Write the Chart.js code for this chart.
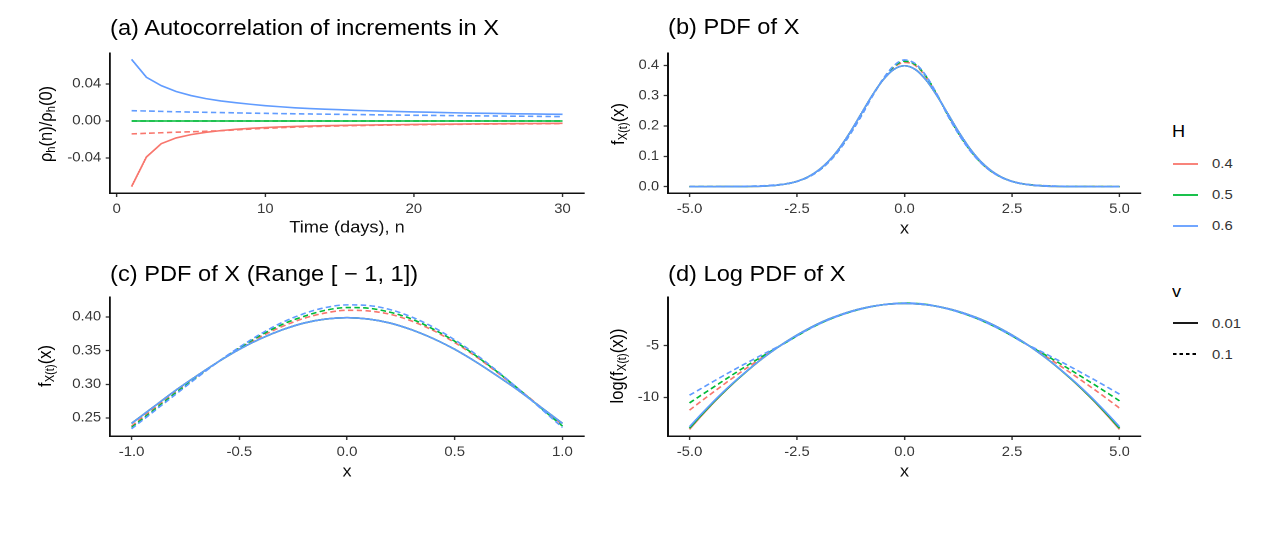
<!DOCTYPE html>
<html>
<head>
<meta charset="utf-8">
<script src="https://cdn.jsdelivr.net/npm/chart.js@4.4.1/dist/chart.umd.min.js"></script>
<style>
  body { margin: 0; background: #fff; }
  #fig { position: relative; width: 1280px; height: 543px; overflow: hidden;
         font-family: "Liberation Sans", Arial, Helvetica, sans-serif; color: #000; background: #fff; }
  #fig canvas { position: absolute; }
  .ptitle { position: absolute; font-size: 21.5px; line-height: 1; white-space: nowrap;
            transform: scaleX(1.1); transform-origin: 0 0; }
  .ylab { position: absolute; font-size: 16.5px; line-height: 1; white-space: nowrap;
          transform: translate(-50%, -50%) scaleX(1.1) rotate(-90deg); }
  .ylab sub { font-size: 68%; vertical-align: -0.25em; line-height: 0; }
  .lgt { position: absolute; font-size: 16.5px; line-height: 1; transform: scaleX(1.1); transform-origin: 0 0; }
  .lgl { position: absolute; font-size: 13.5px; line-height: 1; color: #333; transform: scaleX(1.1); transform-origin: 0 0; }
  .lgk { position: absolute; }
</style>
</head>
<body>
<div id="fig">
  <canvas id="pa"></canvas>
  <canvas id="pb"></canvas>
  <canvas id="pc"></canvas>
  <canvas id="pd"></canvas>
  <div class="ptitle" style="left:110px; top:17.5px">(a) Autocorrelation of increments in X</div>
  <div class="ptitle" style="left:668px; top:17px">(b) PDF of X</div>
  <div class="ptitle" style="left:110px; top:263.5px">(c) PDF of X (Range [ &minus; 1, 1])</div>
  <div class="ptitle" style="left:668px; top:263.5px">(d) Log PDF of X</div>
  <div class="ylab" style="left:46px; top:124px">&rho;<sub>h</sub>(n)/&rho;<sub>h</sub>(0)</div>
  <div class="ylab" style="left:618px; top:124px">f<sub>X(t)</sub>(x)</div>
  <div class="ylab" style="left:45px; top:366px">f<sub>X(t)</sub>(x)</div>
  <div class="ylab" style="left:617px; top:366px">log(f<sub>X(t)</sub>(x))</div>
</div>
<script>
const FONT = '"Liberation Sans", Arial, Helvetica, sans-serif';
const SX = 1.1;   // the picture is a little wider than tall
const colH = ['#F8766D', '#00BA38', '#619CFF'];
const hLevels = ['0.4', '0.5', '0.6'];
const vLevels = ['0.01', '0.1'];

// (a) autocorrelation of increments
const lagN = [1,2,3,4,5,6,7,8,9,10,11,12,13,14,15,16,17,18,19,20,21,22,23,24,25,26,27,28,29,30];
const acfSolid04 = [-0.0709,-0.0389,-0.0245,-0.0183,-0.0147,-0.0122,-0.0104,-0.0090,-0.0079,-0.0071,
  -0.0064,-0.0059,-0.0055,-0.0051,-0.0048,-0.0045,-0.0043,-0.0041,-0.0039,-0.0037,
  -0.0035,-0.0034,-0.0033,-0.0031,-0.0030,-0.0029,-0.0028,-0.0027,-0.0026,-0.0025];
const acfSolid05 = [0,0,0,0,0,0,0,0,0,0,0,0,0,0,0,0,0,0,0,0,0,0,0,0,0,0,0,0,0,0];
const acfSolid06 = [0.0666,0.0473,0.0382,0.0319,0.0275,0.0242,0.0217,0.0198,0.0181,0.0166,
  0.0154,0.0143,0.0135,0.0128,0.0122,0.0116,0.0111,0.0106,0.0102,0.0098,
  0.0095,0.0091,0.0088,0.0085,0.0083,0.0080,0.0078,0.0076,0.0074,0.0072];
const acfDash04 = [-0.0139,-0.0133,-0.0127,-0.0121,-0.0116,-0.0111,-0.0105,-0.0096,-0.0087,-0.0079,
  -0.0072,-0.0066,-0.0061,-0.0057,-0.0053,-0.0050,-0.0047,-0.0045,-0.0043,-0.0041,
  -0.0039,-0.0037,-0.0036,-0.0034,-0.0033,-0.0032,-0.0031,-0.0030,-0.0029,-0.0028];
const acfDash05 = [0,0,0,0,0,0,0,0,0,0,0,0,0,0,0,0,0,0,0,0,0,0,0,0,0,0,0,0,0,0];
const acfDash06 = [0.0112,0.0108,0.0104,0.0100,0.0097,0.0094,0.0091,0.0088,0.0085,0.0083,
  0.0080,0.0078,0.0076,0.0074,0.0072,0.0070,0.0068,0.0066,0.0064,0.0062,
  0.0061,0.0059,0.0058,0.0056,0.0055,0.0053,0.0052,0.0051,0.0049,0.0048];

// (b) pdf and (d) log pdf on the full range
const pdfX = [-5,-4.75,-4.5,-4.25,-4,-3.75,-3.5,-3.25,-3,-2.75,-2.5,-2.25,-2,-1.75,-1.5,-1.25,-1,-0.75,-0.5,-0.25,
  0,0.25,0.5,0.75,1,1.25,1.5,1.75,2,2.25,2.5,2.75,3,3.25,3.5,3.75,4,4.25,4.5,4.75,5];
const pdfSolid = [0.0000,0.0000,0.0000,0.0001,0.0001,0.0004,0.0009,0.0020,0.0044,0.0091,
  0.0175,0.0317,0.0540,0.0863,0.1295,0.1826,0.2420,0.3011,0.3521,0.3867,0.3989,
  0.3867,0.3521,0.3011,0.2420,0.1826,0.1295,0.0863,0.0540,0.0317,0.0175,
  0.0091,0.0044,0.0020,0.0009,0.0004,0.0001,0.0001,0.0000,0.0000,0.0000];
const pdfDash04 = [0.0000,0.0000,0.0001,0.0001,0.0003,0.0006,0.0013,0.0026,0.0050,0.0095,
  0.0176,0.0313,0.0525,0.0840,0.1265,0.1785,0.2380,0.2985,0.3530,0.3930,0.4100,
  0.4000,0.3620,0.3040,0.2400,0.1790,0.1265,0.0840,0.0525,0.0313,0.0176,
  0.0095,0.0051,0.0026,0.0013,0.0007,0.0003,0.0002,0.0001,0.0000,0.0000];
const pdfDash05 = [0.0000,0.0001,0.0001,0.0002,0.0004,0.0008,0.0015,0.0027,0.0051,0.0093,
  0.0172,0.0308,0.0520,0.0830,0.1250,0.1770,0.2360,0.2990,0.3540,0.3960,0.4140,
  0.4030,0.3640,0.3050,0.2380,0.1770,0.1250,0.0830,0.0520,0.0310,0.0172,
  0.0094,0.0053,0.0029,0.0016,0.0009,0.0005,0.0002,0.0001,0.0001,0.0000];
const pdfDash06 = [0.0001,0.0001,0.0002,0.0003,0.0006,0.0011,0.0018,0.0032,0.0054,0.0093,
  0.0170,0.0305,0.0515,0.0825,0.1240,0.1760,0.2340,0.2980,0.3550,0.3990,0.4180,
  0.4060,0.3660,0.3060,0.2360,0.1750,0.1230,0.0820,0.0515,0.0305,0.0170,
  0.0093,0.0055,0.0033,0.0019,0.0011,0.0006,0.0004,0.0002,0.0001,0.0001];

// (c) pdf on [-1, 1]
const centreX = [-1,-0.9,-0.8,-0.7,-0.6,-0.5,-0.4,-0.3,-0.2,-0.1,0,0.1,0.2,0.3,0.4,0.5,0.6,0.7,0.8,0.9,1];
const centreSolid = [0.242,0.266,0.290,0.312,0.333,0.352,0.368,0.381,0.391,0.397,0.399,
  0.397,0.391,0.381,0.368,0.352,0.333,0.312,0.290,0.266,0.242];
const centreDash04 = [0.238,0.263,0.288,0.311,0.333,0.353,0.371,0.386,0.398,0.406,0.410,
  0.409,0.404,0.394,0.380,0.362,0.341,0.317,0.292,0.266,0.240];
const centreDash05 = [0.236,0.261,0.286,0.310,0.333,0.354,0.373,0.389,0.401,0.410,0.414,
  0.413,0.407,0.397,0.382,0.364,0.342,0.318,0.292,0.265,0.238];
const centreDash06 = [0.234,0.259,0.284,0.309,0.333,0.355,0.375,0.392,0.405,0.414,0.418,
  0.417,0.411,0.400,0.385,0.366,0.344,0.319,0.292,0.264,0.236];

const logSolid04 = [-13.11,-11.92,-10.79,-9.73,-8.72,-7.78,-6.89,-6.07,-5.31,-4.61,
  -3.97,-3.39,-2.87,-2.41,-2.02,-1.68,-1.41,-1.19,-1.04,-0.95,-0.92,
  -0.95,-1.04,-1.19,-1.41,-1.68,-2.02,-2.41,-2.87,-3.39,-3.97,
  -4.61,-5.31,-6.07,-6.89,-7.78,-8.72,-9.73,-10.79,-11.92,-13.11];
const logSolid05 = [-13.00,-11.84,-10.73,-9.69,-8.70,-7.77,-6.89,-6.07,-5.31,-4.61,
  -3.97,-3.39,-2.87,-2.41,-2.02,-1.68,-1.41,-1.19,-1.04,-0.95,-0.92,
  -0.95,-1.04,-1.19,-1.41,-1.68,-2.02,-2.41,-2.87,-3.39,-3.97,
  -4.61,-5.31,-6.07,-6.89,-7.77,-8.70,-9.69,-10.73,-11.84,-13.00];
const logSolid06 = [-12.85,-11.73,-10.65,-9.62,-8.65,-7.74,-6.88,-6.07,-5.31,-4.61,
  -3.97,-3.39,-2.87,-2.41,-2.02,-1.68,-1.41,-1.19,-1.04,-0.95,-0.92,
  -0.95,-1.04,-1.19,-1.41,-1.68,-2.02,-2.41,-2.87,-3.39,-3.97,
  -4.61,-5.31,-6.07,-6.88,-7.74,-8.65,-9.62,-10.65,-11.73,-12.85];
const logDash04 = [-11.25,-10.45,-9.67,-8.90,-8.14,-7.40,-6.68,-5.97,-5.29,-4.66,
  -4.04,-3.45,-2.92,-2.46,-2.06,-1.72,-1.43,-1.21,-1.04,-0.94,-0.89,
  -0.92,-1.02,-1.19,-1.42,-1.72,-2.07,-2.48,-2.95,-3.47,-4.05,
  -4.66,-5.27,-5.94,-6.62,-7.32,-8.03,-8.76,-9.50,-10.27,-11.05];
const logDash05 = [-10.55,-9.86,-9.18,-8.50,-7.82,-7.16,-6.52,-5.90,-5.27,-4.68,
  -4.06,-3.46,-2.93,-2.47,-2.07,-1.73,-1.44,-1.21,-1.04,-0.93,-0.88,
  -0.91,-1.01,-1.19,-1.43,-1.73,-2.08,-2.49,-2.96,-3.48,-4.06,
  -4.67,-5.25,-5.84,-6.45,-7.07,-7.70,-8.35,-9.00,-9.67,-10.35];
const logDash06 = [-9.80,-9.20,-8.60,-8.00,-7.42,-6.85,-6.30,-5.75,-5.22,-4.68,
  -4.05,-3.45,-2.93,-2.47,-2.07,-1.73,-1.45,-1.21,-1.04,-0.92,-0.87,
  -0.90,-1.00,-1.18,-1.44,-1.74,-2.09,-2.50,-2.97,-3.49,-4.07,
  -4.68,-5.20,-5.72,-6.26,-6.80,-7.36,-7.93,-8.50,-9.10,-9.70];

// tick marks
const aTicksX = [0, 10, 20, 30];
const aTicksY = [-0.04, 0, 0.04];
const bTicksX = [-5, -2.5, 0, 2.5, 5];
const bTicksY = [0, 0.1, 0.2, 0.3, 0.4];
const cTicksX = [-1, -0.5, 0, 0.5, 1];
const cTicksY = [0.25, 0.30, 0.35, 0.40];
const dTicksY = [-10, -5];

function lineSet(xs, ys, color, dashed, smooth) {
  return {
    data: xs.map((x, i) => ({x: x, y: ys[i]})),
    borderColor: color,
    borderWidth: 1.6,
    borderDash: dashed ? [5, 3] : [],
    pointRadius: 0,
    fill: false,
    tension: 0,
    cubicInterpolationMode: smooth ? 'monotone' : 'default'
  };
}

// first dataset is drawn on top, so H = 0.6 goes first
function sixSets(xs, solids, dashes, smooth) {
  const out = [];
  for (let h = 2; h >= 0; h--) {
    out.push(lineSet(xs, dashes[h], colH[h], true, smooth));
    out.push(lineSet(xs, solids[h], colH[h], false, smooth));
  }
  return out;
}

function axis(range, ticks, dec, size, title) {
  return {
    type: 'linear',
    min: range[0],
    max: range[1],
    afterBuildTicks: s => { s.ticks = ticks.map(v => ({value: v})); },
    afterFit: s => { if (s.isHorizontal()) s.height = size; else s.width = size; },
    ticks: {
      autoSkip: false, maxRotation: 0, padding: 4, color: '#383838',
      font: {family: FONT, size: 13.5},
      callback: v => Number(v).toFixed(dec)
    },
    grid: {drawOnChartArea: false, drawTicks: true, tickLength: 4, tickWidth: 1.3, tickColor: '#333'},
    border: {display: true, color: '#111', width: 1.5},
    title: {
      display: !!title, text: title || '', color: '#111',
      font: {family: FONT, size: 16.5}, padding: {top: 0, bottom: 0}
    }
  };
}

function panel(id, box, area, xr, xTicks, xDec, xTitle, yr, yTicks, yDec, datasets) {
  const cv = document.getElementById(id);
  const cw = Math.round(box.w / SX);
  const sx = box.w / cw;
  cv.width = cw;
  cv.height = box.h;
  cv.style.left = box.l + 'px';
  cv.style.top = box.t + 'px';
  cv.style.width = box.w + 'px';
  cv.style.height = box.h + 'px';
  new Chart(cv, {
    type: 'line',
    data: {datasets: datasets},
    options: {
      responsive: false,
      animation: false,
      devicePixelRatio: 2,
      layout: {padding: {top: area.t - box.t, right: (box.l + box.w - area.r) / sx, left: 0, bottom: 0}},
      plugins: {legend: {display: false}, tooltip: {enabled: false}},
      scales: {
        x: axis(xr, xTicks, xDec, box.t + box.h - area.b, xTitle),
        y: axis(yr, yTicks, yDec, (area.l - box.l) / sx, '')
      }
    }
  });
}

panel('pa', {l: 0, t: 38, w: 600, h: 200}, {l: 110, r: 584, t: 53, b: 193},
  [-0.45, 31.45], aTicksX, 0, 'Time (days), n',
  [-0.0778, 0.0735], aTicksY, 2,
  sixSets(lagN, [acfSolid04, acfSolid05, acfSolid06], [acfDash04, acfDash05, acfDash06], false));

panel('pb', {l: 600, t: 38, w: 560, h: 201}, {l: 668, r: 1141, t: 53, b: 193},
  [-5.5, 5.5], bTicksX, 1, 'x',
  [-0.021, 0.441], bTicksY, 1,
  sixSets(pdfX, [pdfSolid, pdfSolid, pdfSolid], [pdfDash04, pdfDash05, pdfDash06], true));

panel('pc', {l: 0, t: 280, w: 600, h: 202}, {l: 110, r: 584, t: 297, b: 436},
  [-1.1, 1.1], cTicksX, 1, 'x',
  [0.2233, 0.4297], cTicksY, 2,
  sixSets(centreX, [centreSolid, centreSolid, centreSolid], [centreDash04, centreDash05, centreDash06], true));

panel('pd', {l: 600, t: 280, w: 560, h: 202}, {l: 668, r: 1141, t: 297, b: 436},
  [-5.5, 5.5], bTicksX, 1, 'x',
  [-13.75, -0.29], dTicksY, 0,
  sixSets(pdfX, [logSolid04, logSolid05, logSolid06], [logDash04, logDash05, logDash06], true));

// legends
const fig = document.getElementById('fig');
function legendBlock(title, labels, colors, dashed, baseline) {
  const t = document.createElement('div');
  t.className = 'lgt';
  t.textContent = title;
  t.style.left = '1172px';
  t.style.top = (baseline - 14) + 'px';
  fig.appendChild(t);
  labels.forEach((lab, i) => {
    const y = baseline + 26.5 + i * 31;
    const k = document.createElementNS('http://www.w3.org/2000/svg', 'svg');
    k.setAttribute('class', 'lgk');
    k.setAttribute('width', '26');
    k.setAttribute('height', '6');
    k.style.left = '1173px';
    k.style.top = (y - 3) + 'px';
    const ln = document.createElementNS('http://www.w3.org/2000/svg', 'line');
    ln.setAttribute('x1', '0'); ln.setAttribute('x2', '25');
    ln.setAttribute('y1', '3'); ln.setAttribute('y2', '3');
    ln.setAttribute('stroke', colors[i]);
    ln.setAttribute('stroke-width', '1.8');
    if (dashed[i]) ln.setAttribute('stroke-dasharray', '3.5 3');
    k.appendChild(ln);
    fig.appendChild(k);
    const l = document.createElement('div');
    l.className = 'lgl';
    l.textContent = lab;
    l.style.left = '1212px';
    l.style.top = (y - 6.6) + 'px';
    fig.appendChild(l);
  });
}
legendBlock('H', hLevels, colH, [false, false, false], 137.3);
legendBlock('v', vLevels, ['#000', '#000'], [false, true], 296.7);
</script>
</body>
</html>
